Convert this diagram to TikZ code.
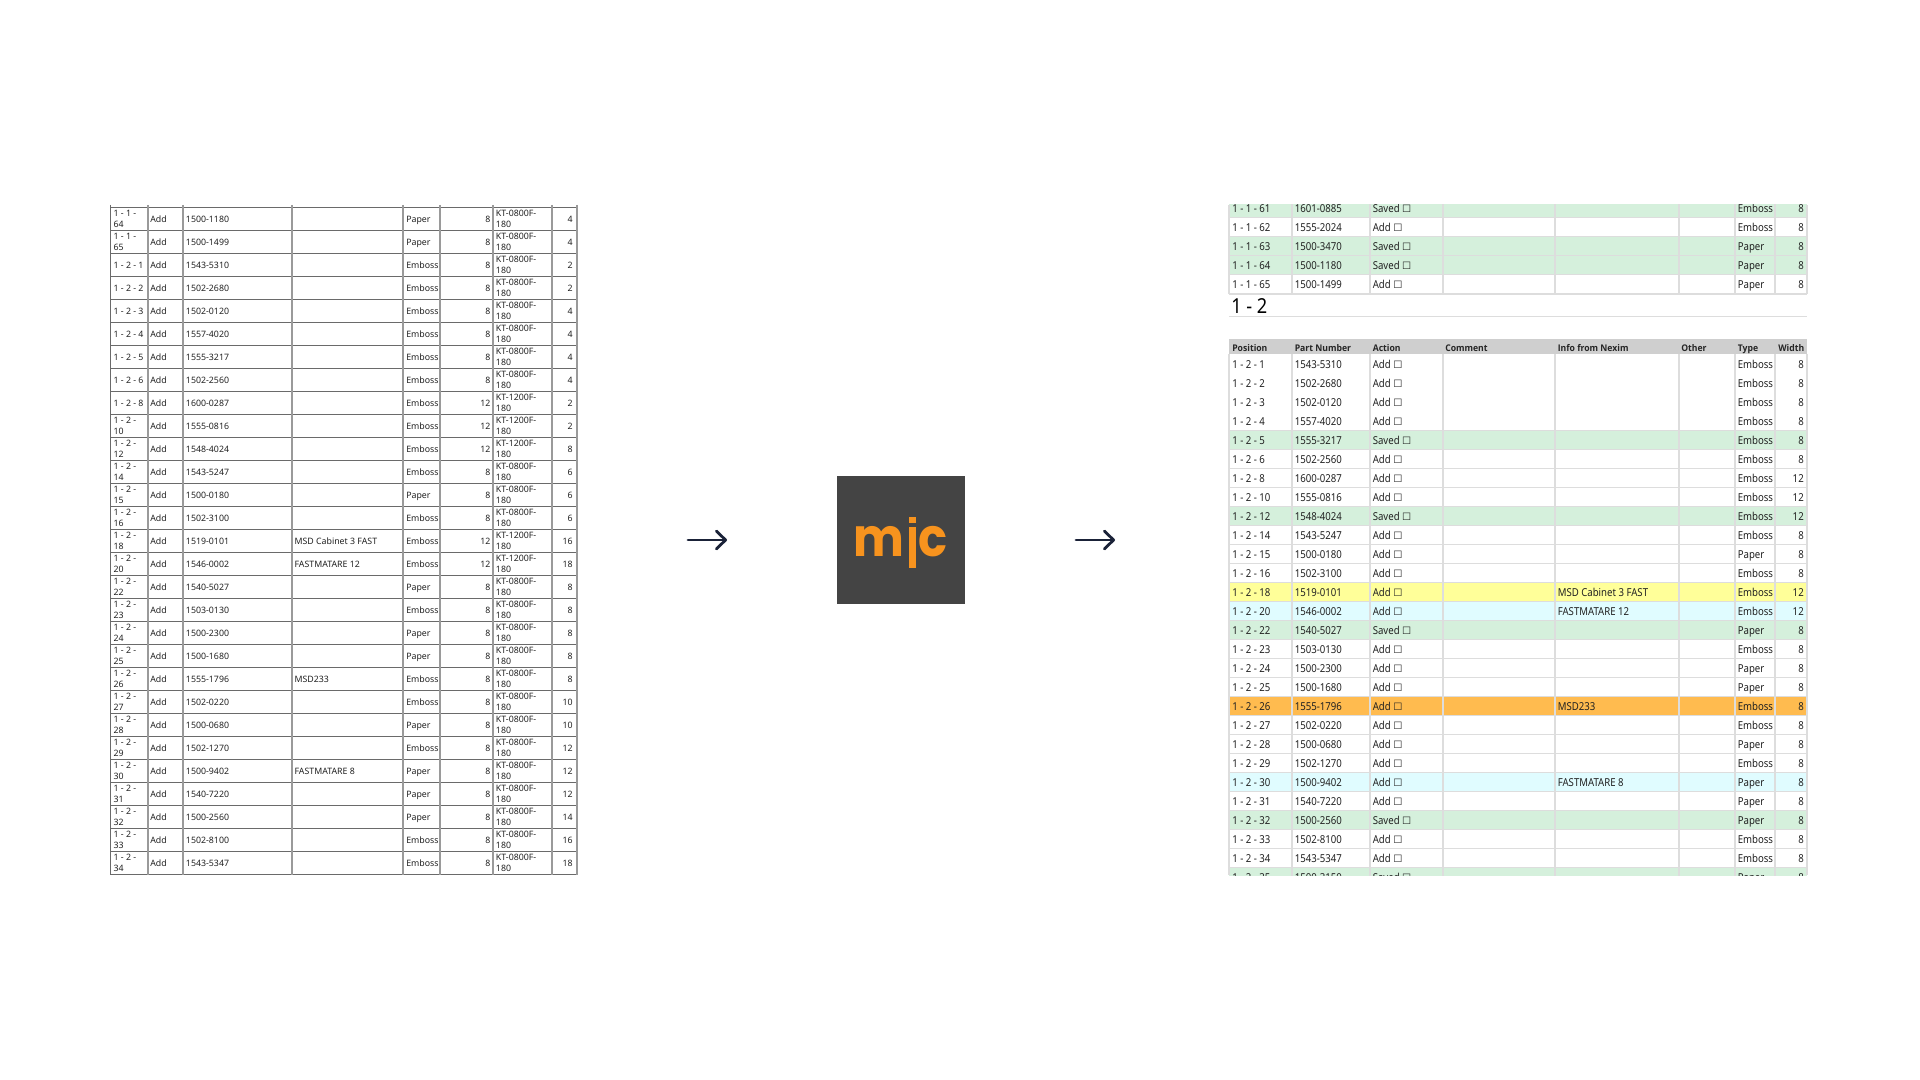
\documentclass[tikz,border=0pt]{standalone}
\usepackage{fontspec}
\setmainfont{Noto Sans}
\newfontfamily\narrowfont{Noto Sans}[FakeStretch=0.88]
\newfontfamily\headfont{Open Sans}[FakeStretch=0.94]
\newfontfamily\logofont{Poppins}[FakeStretch=0.9]
\newfontfamily\boxfont{DejaVu Sans}
\usetikzlibrary{arrows.meta}
\definecolor{txt}{HTML}{222222}
\definecolor{ruleD}{HTML}{6A6A6A}
\definecolor{ruleV}{HTML}{9A9A9A}
\definecolor{gridR}{HTML}{DDDDDD}
\definecolor{headR}{HTML}{CFCFCF}
\definecolor{rowW}{HTML}{FFFFFF}
\definecolor{rowG}{HTML}{D5F0DC}
\definecolor{rowC}{HTML}{E0FCFF}
\definecolor{rowY}{HTML}{FFFF99}
\definecolor{rowO}{HTML}{FFBB4F}
\definecolor{logoBg}{HTML}{444444}
\definecolor{logoFg}{HTML}{F7931E}
\definecolor{arrowC}{HTML}{1A2238}
\tikzset{
  ltext/.style={inner sep=0pt,text=txt,font=\fontsize{6.6}{8.25}\selectfont},
  lleft/.style={ltext,anchor=base west},
  lright/.style={ltext,anchor=base east},
  lmulti/.style={ltext,anchor=west,align=left},
  rtext/.style={inner sep=0pt,text=txt,font=\narrowfont\fontsize{8.2}{9}\selectfont},
  rleft/.style={rtext,anchor=base west},
  rright/.style={rtext,anchor=base east},
  rhead/.style={inner sep=0pt,text=black!85,anchor=base west,font=\headfont\fontsize{6.9}{9}\selectfont\bfseries},
  rheadr/.style={rhead,anchor=base east},
  logotext/.style={inner sep=0pt,text=logoFg,font=\logofont\fontsize{40}{40}\selectfont\bfseries},
  logoj/.style={inner sep=0pt,text=logoFg,font=\logofont\fontsize{12}{12}\selectfont},
  bigarrow/.style={draw=arrowC,line width=2.1pt,line cap=round,-{Straight Barb[length=7pt,width=13.5pt,round]}},
}
\begin{document}
\begin{tikzpicture}[x=0.75pt,y=-0.75pt]
\useasboundingbox (0,0) rectangle (1920,1080);
\fill[white] (0,0) rectangle (1920,1080);

% ---------- left table
\foreach \yy in {0,...,29}
  \draw[ruleD,line width=1pt] (110.7,207.7+23*\yy) -- (577,207.7+23*\yy);
\foreach \xx in {148,183,292,403,440,493,552}
  \draw[ruleV,line width=1.5pt] (\xx,205) -- (\xx,874.7);
\draw[ruleD,line width=1pt] (110.7,205) -- (110.7,874.7);
\draw[ruleV,line width=1.5pt] (577,205) -- (577,874.7);
\foreach \pos/\num/\typ/\wid/\kt/\qty [count=\i from 0] in {
 {1 - 1 -\\64}/1500-1180/Paper/8/0800/4,
 {1 - 1 -\\65}/1500-1499/Paper/8/0800/4,
 {1 - 2 - 1}/1543-5310/Emboss/8/0800/2,
 {1 - 2 - 2}/1502-2680/Emboss/8/0800/2,
 {1 - 2 - 3}/1502-0120/Emboss/8/0800/4,
 {1 - 2 - 4}/1557-4020/Emboss/8/0800/4,
 {1 - 2 - 5}/1555-3217/Emboss/8/0800/4,
 {1 - 2 - 6}/1502-2560/Emboss/8/0800/4,
 {1 - 2 - 8}/1600-0287/Emboss/12/1200/2,
 {1 - 2 -\\10}/1555-0816/Emboss/12/1200/2,
 {1 - 2 -\\12}/1548-4024/Emboss/12/1200/8,
 {1 - 2 -\\14}/1543-5247/Emboss/8/0800/6,
 {1 - 2 -\\15}/1500-0180/Paper/8/0800/6,
 {1 - 2 -\\16}/1502-3100/Emboss/8/0800/6,
 {1 - 2 -\\18}/1519-0101/Emboss/12/1200/16,
 {1 - 2 -\\20}/1546-0002/Emboss/12/1200/18,
 {1 - 2 -\\22}/1540-5027/Paper/8/0800/8,
 {1 - 2 -\\23}/1503-0130/Emboss/8/0800/8,
 {1 - 2 -\\24}/1500-2300/Paper/8/0800/8,
 {1 - 2 -\\25}/1500-1680/Paper/8/0800/8,
 {1 - 2 -\\26}/1555-1796/Emboss/8/0800/8,
 {1 - 2 -\\27}/1502-0220/Emboss/8/0800/10,
 {1 - 2 -\\28}/1500-0680/Paper/8/0800/10,
 {1 - 2 -\\29}/1502-1270/Emboss/8/0800/12,
 {1 - 2 -\\30}/1500-9402/Paper/8/0800/12,
 {1 - 2 -\\31}/1540-7220/Paper/8/0800/12,
 {1 - 2 -\\32}/1500-2560/Paper/8/0800/14,
 {1 - 2 -\\33}/1502-8100/Emboss/8/0800/16,
 {1 - 2 -\\34}/1543-5347/Emboss/8/0800/18}
{
  \pgfmathsetmacro{\yc}{219.3+23*\i}
  \pgfmathsetmacro{\yb}{\yc+3.3}
  \node[lmulti] (lp\i) at (113.3,\yc) {\pos};
  \node[lleft] (la\i) at (150,\yb) {Add};
  \node[lleft] (ln\i) at (185.7,\yb) {\num};
  \node[lleft] (lt\i) at (406,\yb) {\typ};
  \node[lright] (lw\i) at (490.7,\yb) {\wid};
  \node[lmulti] (lk\i) at (495.7,\yc) {KT-\kt F-\\180};
  \node[lright] (lq\i) at (573,\yb) {\qty};
}
\foreach \i/\cmt in {14/MSD Cabinet 3 FAST,15/FASTMATARE 12,20/MSD233,24/FASTMATARE 8}
  \node[lleft] (lc\i) at (294.3,{219.3+23*\i+3.3}) {\cmt};

% ---------- arrows
\coordinate (a1s) at (688,540);
\coordinate (a1e) at (727,540);
\coordinate (a2s) at (1076,540);
\coordinate (a2e) at (1115,540);
\draw[bigarrow] (a1s) -- (a1e);
\draw[bigarrow] (a2s) -- (a2e);

% ---------- logo
\fill[logoBg] (837,476) rectangle (965,604);
\node[logotext,anchor=base west] (logom) at (853.5,556.7) {m};
\node[logotext,anchor=base east] (logoc) at (948,556.7) {c};
\begin{scope}
  \clip (908.7,527) rectangle (916,568.3);
  \node[logoj,anchor=base] (logoj) at (912.3,556.7) {j};
\end{scope}
\fill[logoFg] (908.7,516.7) rectangle (916,523);
\fill[logoFg] (908.7,527) rectangle (916,568.3);

% ---------- right table
\begin{scope}
\clip (1225,205) rectangle (1812,875);
\foreach \pos/\num/\act/\col/\typ/\wid [count=\i from 0] in {
 1 - 1 - 61/1601-0885/Saved/rowG/Emboss/8,
 1 - 1 - 62/1555-2024/Add/rowW/Emboss/8,
 1 - 1 - 63/1500-3470/Saved/rowG/Paper/8,
 1 - 1 - 64/1500-1180/Saved/rowG/Paper/8,
 1 - 1 - 65/1500-1499/Add/rowW/Paper/8}
{
  \pgfmathsetmacro{\yc}{208.5+19*\i}
  \pgfmathsetmacro{\yb}{\yc+4.4}
  \fill[\col] (1229,\yc-9.5) rectangle (1807,\yc+9.5);
  \foreach \xx in {1292,1370,1443,1555,1679,1735,1775}
    \draw[gridR,line width=1pt] (\xx,\yc-9.5) -- (\xx,\yc+9.5);
  \draw[gridR,line width=1.4pt] (1229,\yc+9.5) -- (1807,\yc+9.5);
  \node[rleft] (ua\i) at (1232,\yb) {\pos};
  \node[rleft] (ub\i) at (1294.5,\yb) {\num};
  \node[rleft] (uc\i) at (1372.5,\yb) {\act\ {\boxfont\fontsize{7.6}{9}\selectfont ☐}};
  \node[rleft] (ud\i) at (1737.5,\yb) {\typ};
  \node[rright] (ue\i) at (1804,\yb) {\wid};
}
\draw[gridR,line width=1pt] (1229,205) -- (1229,294) (1807,205) -- (1807,294);

\fill[headR] (1229,339.5) rectangle (1807,354.5);
\foreach \pos/\num/\act/\col/\typ/\wid [count=\i from 0] in {
 1 - 2 - 1/1543-5310/Add/rowW/Emboss/8,
 1 - 2 - 2/1502-2680/Add/rowW/Emboss/8,
 1 - 2 - 3/1502-0120/Add/rowW/Emboss/8,
 1 - 2 - 4/1557-4020/Add/rowW/Emboss/8,
 1 - 2 - 5/1555-3217/Saved/rowG/Emboss/8,
 1 - 2 - 6/1502-2560/Add/rowW/Emboss/8,
 1 - 2 - 8/1600-0287/Add/rowW/Emboss/12,
 1 - 2 - 10/1555-0816/Add/rowW/Emboss/12,
 1 - 2 - 12/1548-4024/Saved/rowG/Emboss/12,
 1 - 2 - 14/1543-5247/Add/rowW/Emboss/8,
 1 - 2 - 15/1500-0180/Add/rowW/Paper/8,
 1 - 2 - 16/1502-3100/Add/rowW/Emboss/8,
 1 - 2 - 18/1519-0101/Add/rowY/Emboss/12,
 1 - 2 - 20/1546-0002/Add/rowC/Emboss/12,
 1 - 2 - 22/1540-5027/Saved/rowG/Paper/8,
 1 - 2 - 23/1503-0130/Add/rowW/Emboss/8,
 1 - 2 - 24/1500-2300/Add/rowW/Paper/8,
 1 - 2 - 25/1500-1680/Add/rowW/Paper/8,
 1 - 2 - 26/1555-1796/Add/rowO/Emboss/8,
 1 - 2 - 27/1502-0220/Add/rowW/Emboss/8,
 1 - 2 - 28/1500-0680/Add/rowW/Paper/8,
 1 - 2 - 29/1502-1270/Add/rowW/Emboss/8,
 1 - 2 - 30/1500-9402/Add/rowC/Paper/8,
 1 - 2 - 31/1540-7220/Add/rowW/Paper/8,
 1 - 2 - 32/1500-2560/Saved/rowG/Paper/8,
 1 - 2 - 33/1502-8100/Add/rowW/Emboss/8,
 1 - 2 - 34/1543-5347/Add/rowW/Emboss/8,
 1 - 2 - 35/1500-3150/Saved/rowG/Paper/8}
{
  \pgfmathsetmacro{\yc}{364+19*\i}
  \pgfmathsetmacro{\yb}{\yc+4.4}
  \fill[\col] (1229,\yc-9.5) rectangle (1807,\yc+9.5);
  \foreach \xx in {1292,1370,1443,1555,1679,1735,1775}
    \draw[gridR,line width=1pt] (\xx,\yc-9.5) -- (\xx,\yc+9.5);
  \draw[gridR,line width=1.4pt] (1229,\yc+9.5) -- (1807,\yc+9.5);
  \node[rleft] (ra\i) at (1232,\yb) {\pos};
  \node[rleft] (rb\i) at (1294.5,\yb) {\num};
  \node[rleft] (rc\i) at (1372.5,\yb) {\act\ {\boxfont\fontsize{7.6}{9}\selectfont ☐}};
  \node[rleft] (rd\i) at (1737.5,\yb) {\typ};
  \node[rright] (re\i) at (1804,\yb) {\wid};
}
\draw[gridR,line width=1pt] (1229,354) -- (1229,875) (1807,354) -- (1807,875);
\end{scope}
\foreach \i/\inf in {12/MSD Cabinet 3 FAST,13/FASTMATARE 12,18/MSD233,22/FASTMATARE 8}
  \node[rleft] (ri\i) at (1557.5,{364+19*\i+4.4}) {\inf};

\node[rhead] (h1) at (1232,351.5) {Position};
\node[rhead] (h2) at (1294.5,351.5) {Part Number};
\node[rhead] (h3) at (1372.5,351.5) {Action};
\node[rhead] (h4) at (1445,351.5) {Comment};
\node[rhead] (h5) at (1557.5,351.5) {Info from Nexim};
\node[rhead] (h6) at (1681,351.5) {Other};
\node[rhead] (h7) at (1737.5,351.5) {Type};
\node[rheadr] (h8) at (1804.5,351.5) {Width};

\node[inner sep=0pt,anchor=base west,text=black,font=\narrowfont\fontsize{15.5}{16}\selectfont] (sect) at (1231,313.5) {1 - 2};
\draw[gridR,line width=1pt] (1229,316.5) -- (1807,316.5);
\end{tikzpicture}
\end{document}
